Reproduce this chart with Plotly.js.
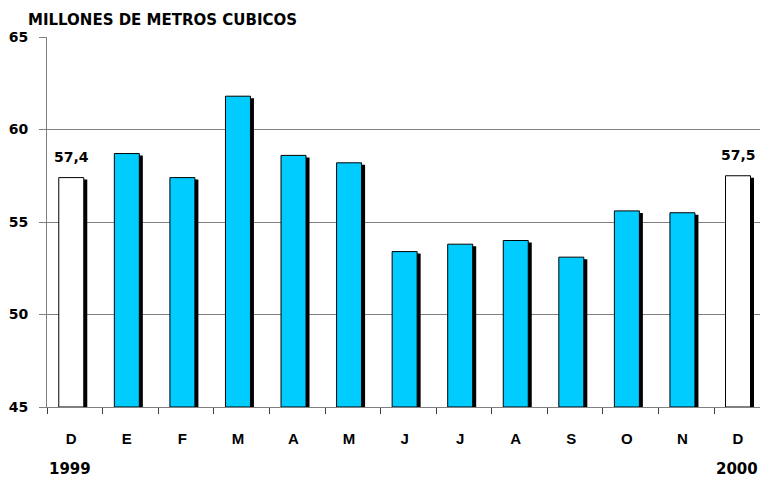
<!DOCTYPE html>
<html>
<head>
<meta charset="utf-8">
<script src="https://cdn.plot.ly/plotly-3.0.1.min.js"></script>
<style>
  html, body { margin: 0; padding: 0; background: #fff; overflow: hidden; }
  #chart { width: 760px; height: 477px; }
</style>
</head>
<body>
<div id="chart"></div>
<script>
// monthly volume, million cubic metres, Dec 1999 - Dec 2000
let months = ['D', 'E', 'F', 'M', 'A', 'M', 'J', 'J', 'A', 'S', 'O', 'N', 'D']
let volumes = [57.4, 58.7, 57.4, 61.8, 58.6, 58.2, 53.4, 53.8, 54.0, 53.1, 55.6, 55.5, 57.5]
let barColors = ['#ffffff', '#00ccff', '#00ccff', '#00ccff', '#00ccff', '#00ccff', '#00ccff',
                 '#00ccff', '#00ccff', '#00ccff', '#00ccff', '#00ccff', '#ffffff']
let yTicks = [45, 50, 55, 60, 65]

let idx = months.map((m, i) => i)
let pxPerUnitX = 55.56
let pxPerUnitY = 18.5
let barW = 25 / pxPerUnitX
let yMin = 45

let shadow = {
    x: idx,
    y: volumes.map(v => v - yMin - 2 / pxPerUnitY),
    base: yMin,
    type: 'bar',
    width: barW,
    offset: -barW / 2 + 3.5 / pxPerUnitX,
    marker: {color: '#000000', line: {width: 0}},
    hoverinfo: 'skip',
    showlegend: false
}

let bars = {
    x: idx,
    y: volumes.map(v => v - yMin),
    base: yMin,
    type: 'bar',
    width: barW,
    offset: -barW / 2,
    marker: {color: barColors, line: {color: '#000000', width: 1}},
    showlegend: false
}

let boldNum = {family: 'DejaVu Sans', size: 14, color: '#000', weight: 'bold'}

let labels = [0, 12].map(i => ({
    x: i, y: volumes[i], xref: 'x', yref: 'y',
    text: String(volumes[i].toFixed(1)).replace('.', ','),
    showarrow: false, yanchor: 'middle', yshift: 21,
    font: boldNum
}))

labels.push({
    x: 0, y: -0.168, xref: 'paper', yref: 'paper', text: '1999',
    showarrow: false, xanchor: 'left', yanchor: 'middle',
    font: {family: 'DejaVu Sans', size: 15, color: '#000', weight: 'bold'}
})
labels.push({
    x: 1, y: -0.168, xref: 'paper', yref: 'paper', text: '2000',
    showarrow: false, xanchor: 'right', yanchor: 'middle',
    font: {family: 'DejaVu Sans', size: 15, color: '#000', weight: 'bold'}
})

let xRange = [-0.437, 12.396]

let layout = {
    width: 760,
    height: 477,
    margin: {l: 47, r: 0, t: 37, b: 70},
    paper_bgcolor: '#ffffff',
    plot_bgcolor: '#ffffff',
    barmode: 'overlay',
    title: {
        text: 'MILLONES DE METROS CUBICOS',
        x: 28 / 760, xanchor: 'left', xref: 'container',
        y: 1 - 20 / 477, yanchor: 'middle', yref: 'container',
        font: {family: 'DejaVu Sans', size: 15, color: '#000', weight: 'bold'}
    },
    xaxis: {
        range: xRange,
        tickvals: idx,
        ticktext: months,
        ticks: '',
        ticklabelstandoff: 18,
        showgrid: false,
        zeroline: false,
        showline: true,
        linecolor: '#808080',
        linewidth: 1,
        tickfont: {family: 'Arial', size: 15, color: '#000', weight: 'bold'},
        fixedrange: true
    },
    xaxis2: {
        overlaying: 'x',
        anchor: 'y',
        side: 'bottom',
        range: xRange,
        tickvals: idx.map(i => i - 0.432),
        ticks: 'outside',
        ticklen: 6,
        tickcolor: '#404040',
        showticklabels: false,
        showgrid: false,
        zeroline: false,
        showline: false
    },
    yaxis: {
        range: [45, 65],
        tickvals: yTicks,
        ticks: 'outside',
        ticklen: 7,
        tickcolor: '#808080',
        ticklabelstandoff: 8,
        showgrid: true,
        gridcolor: '#808080',
        gridwidth: 1,
        zeroline: false,
        showline: true,
        linecolor: '#808080',
        linewidth: 1,
        tickfont: boldNum,
        fixedrange: true
    },
    annotations: labels
}

let ticksTrace = {x: [0], y: [45], xaxis: 'x2', yaxis: 'y', type: 'scatter', mode: 'markers',
    marker: {opacity: 0}, hoverinfo: 'skip', showlegend: false}

Plotly.newPlot('chart', [shadow, bars, ticksTrace], layout, {displayModeBar: false, staticPlot: true})
</script>
</body>
</html>
